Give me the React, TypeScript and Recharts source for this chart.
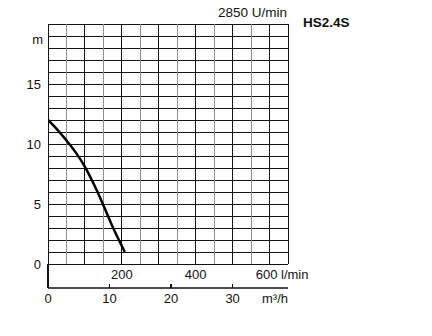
import React from 'react';
import { LineChart, Line, XAxis, YAxis, CartesianGrid } from 'recharts';

// Kennlinie: Förderstrom (l/min) -> Förderhöhe (m)
const flowLpm = [0, 25, 50, 75, 100, 125, 150, 175, 208];
const headM = [12, 11.2, 10.3, 9.3, 8.1, 6.6, 4.9, 3.1, 1];

const lpmTicks = [0, 50, 100, 150, 200, 250, 300, 350, 400, 450, 500, 550, 600, 650];
const lpmLabels = [200, 400, 600];
const cmhTicks = [0, 10, 20, 30];
const headTicks = [0, 1, 2, 3, 4, 5, 6, 7, 8, 9, 10, 11, 12, 13, 14, 15, 16, 17, 18, 19, 20];
const headLabels = [0, 5, 10, 15];

const speedLabel = '2850 U/min';
const modelLabel = 'HS2.4S';

// l/min -> m³/h (zweite Achse)
const data = flowLpm.map((q, i) => ({ q, cmh: q * 0.06, h: headM[i] }));

const FONT = '"Liberation Sans", Arial, sans-serif';
const INK = '#111';

const HeadTick = ({ x, y, payload }: any) => {
    if (!headLabels.includes(payload.value)) return <g />;
    return (
        <text x={x} y={y + 4.5} textAnchor="end" fontSize={13} fill={INK} fontFamily={FONT}>
            {payload.value}
        </text>
    );
};

const LpmTick = ({ x, y, payload }: any) => {
    if (!lpmLabels.includes(payload.value)) return <g />;
    const last = payload.value === lpmLabels[lpmLabels.length - 1];
    return (
        <g>
            <text x={last ? x - 3 : x} y={y + 15} textAnchor="middle" fontSize={13} fill={INK} fontFamily={FONT}>
                {payload.value}
            </text>
            {last && (
                <text x={x + 11.5} y={y + 15} textAnchor="start" fontSize={13} fill={INK} fontFamily={FONT}>
                    l/min
                </text>
            )}
        </g>
    );
};

const CmhTick = ({ x, y, payload }: any) => (
    <g>
        {/* kleine Striche nach oben, bei 0 bis zur Nulllinie */}
        <line x1={x} y1={y} x2={x} y2={payload.value === 0 ? y - 24 : y - 4} stroke={INK} strokeWidth={1.2} shapeRendering="crispEdges" />
        <text x={x} y={y + 15} textAnchor="middle" fontSize={13} fill={INK} fontFamily={FONT}>
            {payload.value}
        </text>
    </g>
);

const VLine = (props: any) => {
    const { x1, y1, x2, y2, index } = props;
    const gray = index % 2 === 1 && index !== lpmTicks.length - 1;
    return (
        <line key={`v-${index}`} x1={x1} y1={y1} x2={x2} y2={y2}
            stroke={gray ? '#8c8c8c' : INK} strokeWidth={1} shapeRendering="crispEdges" />
    );
};

const HLine = (props: any) => {
    const { x1, y1, x2, y2, index } = props;
    return (
        <line key={`h-${index}`} x1={x1} y1={y1} x2={x2} y2={y2}
            stroke={INK} strokeWidth={1} shapeRendering="crispEdges" />
    );
};

export default function App() {
    return (
        <div style={{ position: 'absolute', left: 0, top: 0, width: 432, height: 336, background: '#fff', fontFamily: FONT }}>
            <LineChart width={432} height={336} data={data} margin={{ top: 24, right: 144, left: 0, bottom: 18 }}>
                <CartesianGrid
                    xAxisId={0}
                    vertical={VLine}
                    horizontal={HLine}
                />
                <XAxis
                    xAxisId={0}
                    dataKey="q"
                    type="number"
                    domain={[0, 650]}
                    allowDataOverflow
                    ticks={lpmTicks}
                    interval={0}
                    height={24}
                    axisLine={false}
                    tickLine={false}
                    tickSize={0}
                    tickMargin={0}
                    tick={<LpmTick />}
                />
                <XAxis
                    xAxisId={1}
                    dataKey="cmh"
                    type="number"
                    domain={[0, 39]}
                    allowDataOverflow
                    ticks={cmhTicks}
                    interval={0}
                    height={30}
                    axisLine={{ stroke: INK, strokeWidth: 1.5 }}
                    tickLine={false}
                    tickSize={0}
                    tickMargin={0}
                    tick={<CmhTick />}
                    label={(props: any) => {
                        const vb = props.viewBox;
                        return (
                            <text x={vb.x + vb.width} y={vb.y + 15} textAnchor="end" fontSize={13} fill={INK} fontFamily={FONT}>
                                m³/h
                            </text>
                        );
                    }}
                />
                <YAxis
                    type="number"
                    domain={[0, 20]}
                    ticks={headTicks}
                    interval={0}
                    width={48}
                    axisLine={false}
                    tickLine={false}
                    tickSize={0}
                    tickMargin={7}
                    tick={<HeadTick />}
                    label={(props: any) => {
                        const vb = props.viewBox;
                        return (
                            <text x={vb.x + vb.width - 5} y={vb.y + 20} textAnchor="end" fontSize={13} fill={INK} fontFamily={FONT}>
                                m
                            </text>
                        );
                    }}
                />
                <Line
                    xAxisId={0}
                    type="monotone"
                    dataKey="h"
                    stroke="#000"
                    strokeWidth={2.5}
                    dot={false}
                    isAnimationActive={false}
                />
            </LineChart>
            <div style={{ position: 'absolute', right: 432 - 287, top: 5, fontSize: 13.5, color: INK, whiteSpace: 'nowrap' }}>
                {speedLabel}
            </div>
            <div style={{ position: 'absolute', left: 303, top: 15, fontSize: 13.5, fontWeight: 'bold', color: INK }}>
                {modelLabel}
            </div>
        </div>
    );
}
